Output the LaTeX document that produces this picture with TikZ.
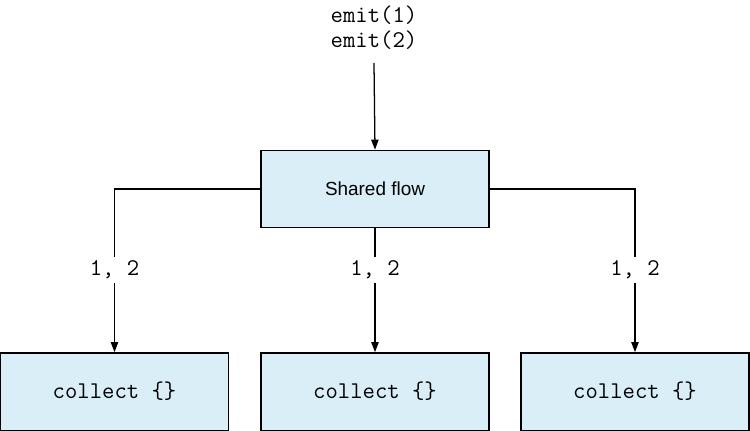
\documentclass[tikz,border=0pt]{standalone}
\usepackage{fontspec}
\setmainfont{Liberation Sans}
\usetikzlibrary{arrows.meta}
\definecolor{boxfill}{RGB}{218,238,248}
\begin{document}
\begin{tikzpicture}[x=0.75pt,y=-0.75pt,
  box/.style={draw=black, line width=1pt, fill=boxfill, minimum width=171pt, minimum height=58pt, inner sep=0pt},
  conn/.style={line width=0.95pt, -{Triangle[length=7.5pt,width=5.5pt]}},
  lbl/.style={fill=white, inner xsep=2pt, inner ysep=3pt, font=\ttfamily\fontsize{18}{20}\selectfont},
  codetxt/.style={font=\ttfamily\fontsize{18}{20}\selectfont},
  sanstxt/.style={font=\fontsize{14.2}{17}\selectfont}]
\useasboundingbox (0,0) rectangle (750,431);
\node[box, sanstxt] (top) at (375,189) {Shared flow};
\node[box, codetxt] (l) at (114.5,391.5) {collect \{\}};
\node[box, codetxt] (m) at (375,391.5) {collect \{\}};
\node[box, codetxt] (r) at (635,391.5) {collect \{\}};
\node[align=center, font=\ttfamily\fontsize{18}{18.75}\selectfont] (emit) at (374,28) {emit(1)\\emit(2)};
\coordinate (src) at (374,63);
\draw[conn] (src) -- (top.north);
\draw[conn] (top.west) -| (l.north);
\draw[conn] (top.south) -- (m.north);
\draw[conn] (top.east) -| (r.north);
\node[lbl] (la) at (114.5,270) {1, 2};
\node[lbl] (lb) at (375,270) {1, 2};
\node[lbl] (lc) at (635,270) {1, 2};
\end{tikzpicture}
\end{document}
